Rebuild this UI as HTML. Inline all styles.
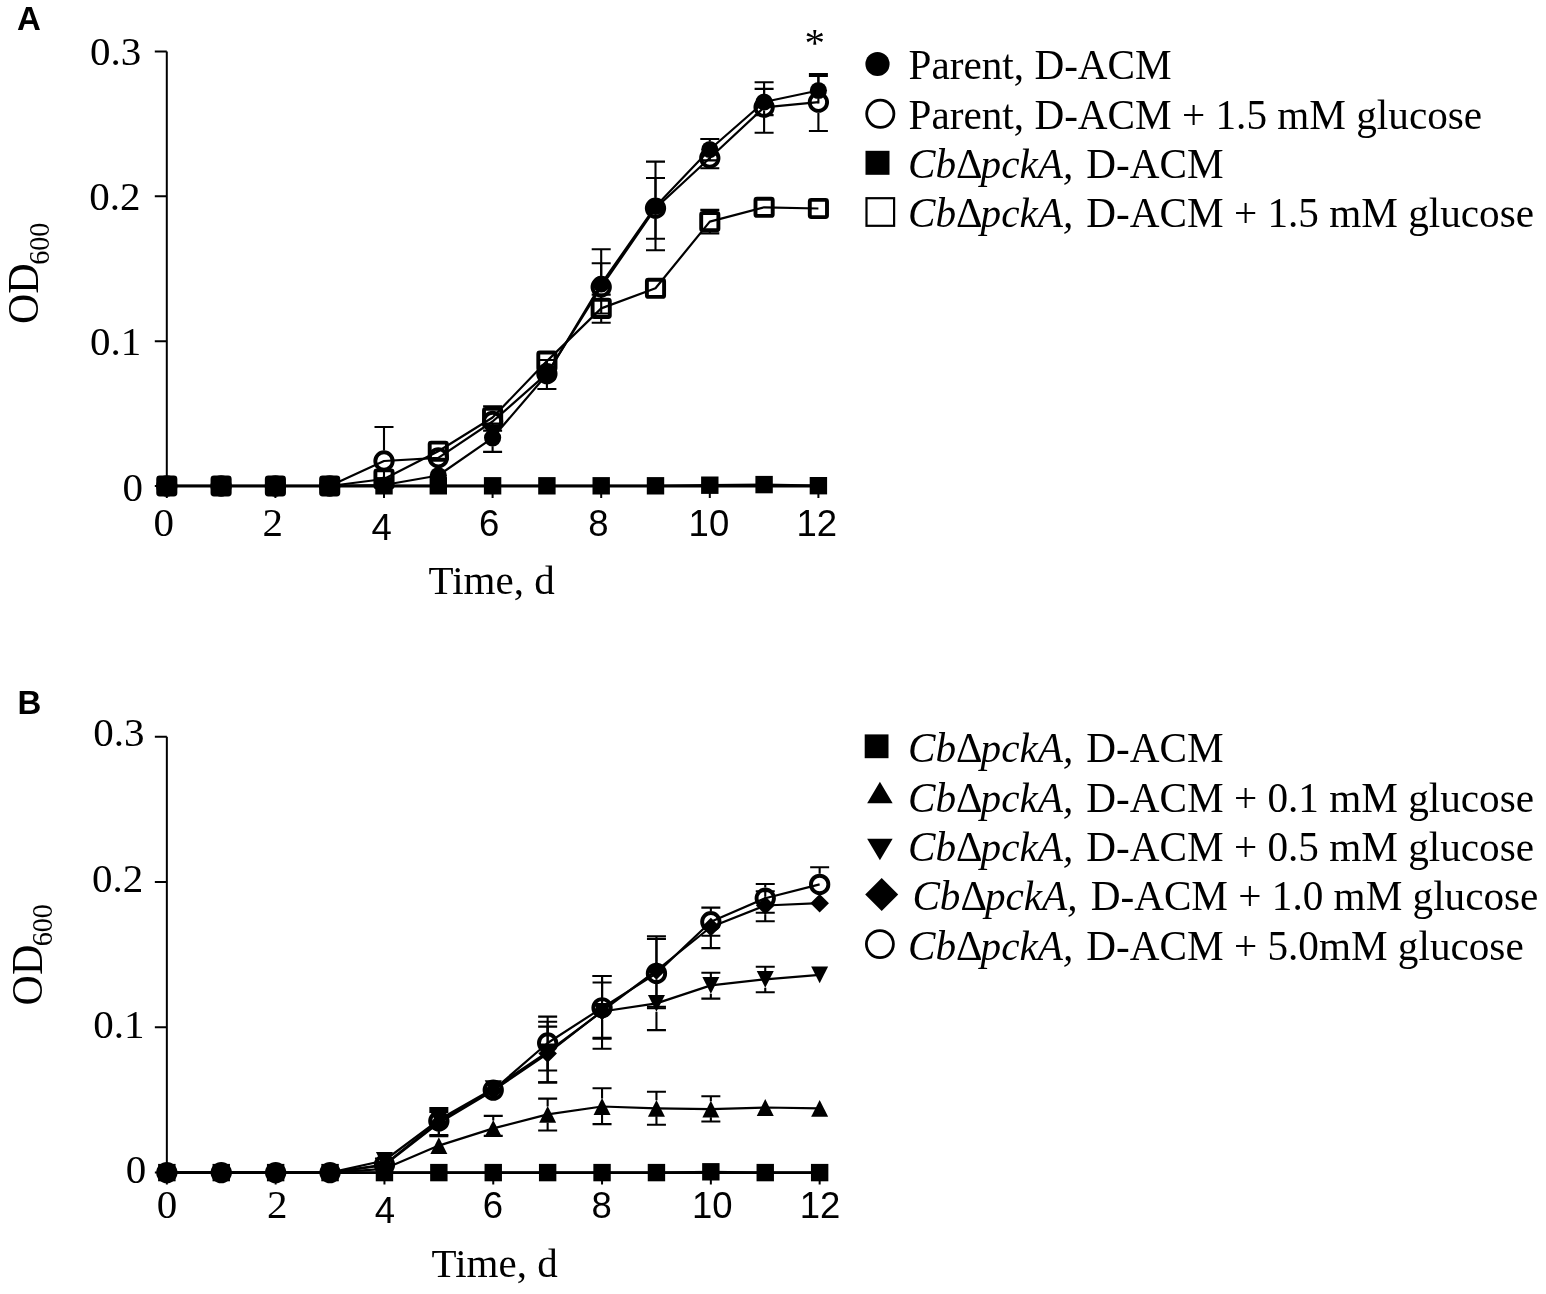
<!DOCTYPE html>
<html lang="en">
<head>
<meta charset="utf-8">
<title>Figure</title>
<style>
html,body{margin:0;padding:0;background:#fff;}
body{width:1546px;height:1294px;overflow:hidden;}
svg{display:block;}
.se{font-family:"Liberation Serif","DejaVu Serif",serif;fill:#000;}
.sa{font-family:"Liberation Sans","DejaVu Sans",sans-serif;fill:#000;}
.sab{font-family:"Liberation Sans","DejaVu Sans",sans-serif;font-weight:bold;fill:#000;}
</style>
</head>
<body>
<svg width="1546" height="1294" viewBox="0 0 1546 1294">
<rect width="1546" height="1294" fill="#fff"/>
<g id="panelA">
<path d="M166.8 51.4V486" stroke="#000" stroke-width="2.0" fill="none"/>
<path d="M165.8 486H818.4" stroke="#000" stroke-width="2.8" fill="none"/>
<path d="M154.8 51.4H166.8M154.8 196.2H166.8M154.8 341.3H166.8M154.8 486H166.8M166.8 486V498M275.4 486V498M384 486V498M492.6 486V498M601.2 486V498M709.8 486V498M818.4 486V498" stroke="#000" stroke-width="2.0" fill="none"/>
<rect x="158.1" y="477.1" width="17.4" height="17.4" fill="#000"/>
<rect x="212.4" y="477.1" width="17.4" height="17.4" fill="#000"/>
<rect x="266.7" y="477.1" width="17.4" height="17.4" fill="#000"/>
<rect x="321" y="477.1" width="17.4" height="17.4" fill="#000"/>
<rect x="375.3" y="477.1" width="17.4" height="17.4" fill="#000"/>
<rect x="429.6" y="477.1" width="17.4" height="17.4" fill="#000"/>
<rect x="483.9" y="477.1" width="17.4" height="17.4" fill="#000"/>
<rect x="538.2" y="477.1" width="17.4" height="17.4" fill="#000"/>
<rect x="592.5" y="477.1" width="17.4" height="17.4" fill="#000"/>
<rect x="646.8" y="477.1" width="17.4" height="17.4" fill="#000"/>
<rect x="701.1" y="476.5" width="17.4" height="17.4" fill="#000"/>
<rect x="755.4" y="475.9" width="17.4" height="17.4" fill="#000"/>
<rect x="809.7" y="477" width="17.4" height="17.4" fill="#000"/>
<path d="M492.6 407V406.3M483.1 406.3H502.1M492.6 428V430.6M483.1 430.6H502.1M601.2 297.9V294.6M591.7 294.6H610.7M601.2 318.9V322.7M591.7 322.7H610.7M709.8 211.1V209.9M700.3 209.9H719.3M709.8 232.1V233.4M700.3 233.4H719.3" fill="none" stroke="#000" stroke-width="2.1"/>
<rect x="158.2" y="477.4" width="17.2" height="17.2" rx="1.5" fill="none" stroke="#000" stroke-width="3.9"/>
<rect x="212.5" y="477.4" width="17.2" height="17.2" rx="1.5" fill="none" stroke="#000" stroke-width="3.9"/>
<rect x="266.8" y="477.4" width="17.2" height="17.2" rx="1.5" fill="none" stroke="#000" stroke-width="3.9"/>
<rect x="321.1" y="477.4" width="17.2" height="17.2" rx="1.5" fill="none" stroke="#000" stroke-width="3.9"/>
<rect x="375.4" y="470.4" width="17.2" height="17.2" rx="1.5" fill="none" stroke="#000" stroke-width="3.9"/>
<rect x="429.7" y="442.6" width="17.2" height="17.2" rx="1.5" fill="none" stroke="#000" stroke-width="3.9"/>
<rect x="484" y="408.9" width="17.2" height="17.2" rx="1.5" fill="none" stroke="#000" stroke-width="3.9"/>
<rect x="538.3" y="352.5" width="17.2" height="17.2" rx="1.5" fill="none" stroke="#000" stroke-width="3.9"/>
<rect x="592.6" y="299.8" width="17.2" height="17.2" rx="1.5" fill="none" stroke="#000" stroke-width="3.9"/>
<rect x="646.9" y="279.7" width="17.2" height="17.2" rx="1.5" fill="none" stroke="#000" stroke-width="3.9"/>
<rect x="701.2" y="213" width="17.2" height="17.2" rx="1.5" fill="none" stroke="#000" stroke-width="3.9"/>
<rect x="755.5" y="198.7" width="17.2" height="17.2" rx="1.5" fill="none" stroke="#000" stroke-width="3.9"/>
<rect x="809.8" y="199.9" width="17.2" height="17.2" rx="1.5" fill="none" stroke="#000" stroke-width="3.9"/>
<path d="M384 450.4V427M374.5 427H393.5M384 471.6V494M601.2 276.4V263.2M591.7 263.2H610.7M601.2 297.6V313.5M591.7 313.5H610.7M655.5 197.6V178M646 178H665M655.5 218.8V238.8M646 238.8H665M700.3 168.3H719.3M764.1 96.7V82.3M754.6 82.3H773.6M764.1 117.9V132.8M754.6 132.8H773.6M818.4 91.6V74M808.9 74H827.9M818.4 112.8V131M808.9 131H827.9" fill="none" stroke="#000" stroke-width="2.1"/>
<circle cx="166.8" cy="486" r="8.7" fill="none" stroke="#000" stroke-width="3.9"/>
<circle cx="221.1" cy="486" r="8.7" fill="none" stroke="#000" stroke-width="3.9"/>
<circle cx="275.4" cy="486" r="8.7" fill="none" stroke="#000" stroke-width="3.9"/>
<circle cx="329.7" cy="486" r="8.7" fill="none" stroke="#000" stroke-width="3.9"/>
<circle cx="384" cy="461" r="8.7" fill="none" stroke="#000" stroke-width="3.9"/>
<circle cx="438.3" cy="457.8" r="8.7" fill="none" stroke="#000" stroke-width="3.9"/>
<circle cx="492.6" cy="421.5" r="8.7" fill="none" stroke="#000" stroke-width="3.9"/>
<circle cx="546.9" cy="373.7" r="8.7" fill="none" stroke="#000" stroke-width="3.9"/>
<circle cx="601.2" cy="287" r="8.7" fill="none" stroke="#000" stroke-width="3.9"/>
<circle cx="655.5" cy="208.2" r="8.7" fill="none" stroke="#000" stroke-width="3.9"/>
<circle cx="709.8" cy="158" r="8.7" fill="none" stroke="#000" stroke-width="3.9"/>
<circle cx="764.1" cy="107.3" r="8.7" fill="none" stroke="#000" stroke-width="3.9"/>
<circle cx="818.4" cy="102.2" r="8.7" fill="none" stroke="#000" stroke-width="3.9"/>
<path d="M492.6 429.3V423.6M483.1 423.6H502.1M492.6 446.3V451.9M483.1 451.9H502.1M546.9 366V360M537.4 360H556.4M546.9 383V389M537.4 389H556.4M601.2 275.5V249.3M591.7 249.3H610.7M655.5 198V161.6M646 161.6H665M655.5 215V250.3M646 250.3H665M709.8 141V139M700.3 139H719.3M709.8 158V160.4M700.3 160.4H719.3M764.1 93.5V88.9M754.6 88.9H773.6M764.1 110.5V115.1M754.6 115.1H773.6M818.4 82V76M808.9 76H827.9M818.4 99V103.5" fill="none" stroke="#000" stroke-width="2.1"/>
<circle cx="166.8" cy="486" r="8.6" fill="#000"/>
<circle cx="221.1" cy="486" r="8.6" fill="#000"/>
<circle cx="275.4" cy="486" r="8.6" fill="#000"/>
<circle cx="329.7" cy="486" r="8.6" fill="#000"/>
<circle cx="384" cy="485" r="8.6" fill="#000"/>
<circle cx="438.3" cy="475.5" r="8.6" fill="#000"/>
<circle cx="492.6" cy="437.8" r="8.6" fill="#000"/>
<circle cx="546.9" cy="374.5" r="8.6" fill="#000"/>
<circle cx="601.2" cy="284" r="8.6" fill="#000"/>
<circle cx="655.5" cy="206.5" r="8.6" fill="#000"/>
<circle cx="709.8" cy="149.5" r="8.6" fill="#000"/>
<circle cx="764.1" cy="102" r="8.6" fill="#000"/>
<circle cx="818.4" cy="90.5" r="8.6" fill="#000"/>
<polyline points="166.8,485.8 221.1,485.8 275.4,485.8 329.7,485.8 384,485.8 438.3,485.8 492.6,485.8 546.9,485.8 601.2,485.8 655.5,485.8 709.8,485.2 764.1,484.6 818.4,485.7" fill="none" stroke="#000" stroke-width="2.2" stroke-linejoin="round"/>
<polyline points="166.8,486 221.1,486 275.4,486 329.7,486 384,479 438.3,451.2 492.6,417.5 546.9,361.1 601.2,308.4 655.5,288.3 709.8,221.6 764.1,207.3 818.4,208.5" fill="none" stroke="#000" stroke-width="2.2" stroke-linejoin="round"/>
<polyline points="166.8,486 221.1,486 275.4,486 329.7,486 384,461 438.3,457.8 492.6,421.5 546.9,373.7 601.2,287 655.5,208.2 709.8,158 764.1,107.3 818.4,102.2" fill="none" stroke="#000" stroke-width="2.2" stroke-linejoin="round"/>
<polyline points="166.8,486 221.1,486 275.4,486 329.7,486 384,485 438.3,475.5 492.6,437.8 546.9,374.5 601.2,284 655.5,206.5 709.8,149.5 764.1,102 818.4,90.5" fill="none" stroke="#000" stroke-width="2.2" stroke-linejoin="round"/>
<text x="814.8" y="55.6" text-anchor="middle" class="se" font-size="41">*</text>
</g>
<g id="panelB">
<path d="M166.85 736.8V1172.6" stroke="#000" stroke-width="2.0" fill="none"/>
<path d="M165.85 1172.6H819.65" stroke="#000" stroke-width="2.8" fill="none"/>
<path d="M154.85 736.8H166.85M154.85 882.1H166.85M154.85 1027.3H166.85M154.85 1172.6H166.85M166.85 1172.6V1184.6M275.65 1172.6V1184.6M384.45 1172.6V1184.6M493.25 1172.6V1184.6M602.05 1172.6V1184.6M710.85 1172.6V1184.6M819.65 1172.6V1184.6" stroke="#000" stroke-width="2.0" fill="none"/>
<rect x="158.15" y="1163.9" width="17.4" height="17.4" fill="#000"/>
<rect x="212.55" y="1163.9" width="17.4" height="17.4" fill="#000"/>
<rect x="266.95" y="1163.9" width="17.4" height="17.4" fill="#000"/>
<rect x="321.35" y="1163.9" width="17.4" height="17.4" fill="#000"/>
<rect x="375.75" y="1163.9" width="17.4" height="17.4" fill="#000"/>
<rect x="430.15" y="1163.9" width="17.4" height="17.4" fill="#000"/>
<rect x="484.55" y="1163.9" width="17.4" height="17.4" fill="#000"/>
<rect x="538.95" y="1163.9" width="17.4" height="17.4" fill="#000"/>
<rect x="593.35" y="1163.9" width="17.4" height="17.4" fill="#000"/>
<rect x="647.75" y="1163.9" width="17.4" height="17.4" fill="#000"/>
<rect x="702.15" y="1163.1" width="17.4" height="17.4" fill="#000"/>
<rect x="756.55" y="1163.9" width="17.4" height="17.4" fill="#000"/>
<rect x="810.95" y="1163.9" width="17.4" height="17.4" fill="#000"/>
<path d="M493.25 1120.4V1115.9M483.75 1115.9H502.75M483.75 1135.9H502.75M547.65 1106.4V1098.6M538.15 1098.6H557.15M547.65 1122.4V1130.5M538.15 1130.5H557.15M602.05 1098.5V1088.3M592.55 1088.3H611.55M602.05 1114.5V1124.1M592.55 1124.1H611.55M656.45 1100.3V1091.8M646.95 1091.8H665.95M656.45 1116.3V1124.7M646.95 1124.7H665.95M710.85 1101.2V1096.2M701.35 1096.2H720.35M710.85 1117.2V1121.5M701.35 1121.5H720.35" fill="none" stroke="#000" stroke-width="2.1"/>
<polygon points="166.85,1164.2 175.35,1181 158.35,1181" fill="#000"/>
<polygon points="221.25,1164.2 229.75,1181 212.75,1181" fill="#000"/>
<polygon points="275.65,1164.2 284.15,1181 267.15,1181" fill="#000"/>
<polygon points="330.05,1164.2 338.55,1181 321.55,1181" fill="#000"/>
<polygon points="384.45,1160.4 392.95,1177.2 375.95,1177.2" fill="#000"/>
<polygon points="438.85,1137.2 447.35,1154 430.35,1154" fill="#000"/>
<polygon points="493.25,1120 501.75,1136.8 484.75,1136.8" fill="#000"/>
<polygon points="547.65,1106 556.15,1122.8 539.15,1122.8" fill="#000"/>
<polygon points="602.05,1098.1 610.55,1114.9 593.55,1114.9" fill="#000"/>
<polygon points="656.45,1099.9 664.95,1116.7 647.95,1116.7" fill="#000"/>
<polygon points="710.85,1100.8 719.35,1117.6 702.35,1117.6" fill="#000"/>
<polygon points="765.25,1099.1 773.75,1115.9 756.75,1115.9" fill="#000"/>
<polygon points="819.65,1100 828.15,1116.8 811.15,1116.8" fill="#000"/>
<path d="M438.85 1111.4V1110M429.35 1110H448.35M547.65 1043.6V1026.6M538.15 1026.6H557.15M547.65 1060.4V1082.4M538.15 1082.4H557.15M602.05 1003.1V982.5M592.55 982.5H611.55M602.05 1019.9V1038.8M592.55 1038.8H611.55M656.45 1011.8V1030.1M646.95 1030.1H665.95M710.85 977V972.8M701.35 972.8H720.35M710.85 993.8V998.6M701.35 998.6H720.35M765.25 970.9V966.7M755.75 966.7H774.75M765.25 987.7V992.2M755.75 992.2H774.75" fill="none" stroke="#000" stroke-width="2.1"/>
<polygon points="166.85,1181 175.35,1164.2 158.35,1164.2" fill="#000"/>
<polygon points="221.25,1181 229.75,1164.2 212.75,1164.2" fill="#000"/>
<polygon points="275.65,1181 284.15,1164.2 267.15,1164.2" fill="#000"/>
<polygon points="330.05,1181 338.55,1164.2 321.55,1164.2" fill="#000"/>
<polygon points="384.45,1168.9 392.95,1152.1 375.95,1152.1" fill="#000"/>
<polygon points="438.85,1128.2 447.35,1111.4 430.35,1111.4" fill="#000"/>
<polygon points="493.25,1097 501.75,1080.2 484.75,1080.2" fill="#000"/>
<polygon points="547.65,1060.4 556.15,1043.6 539.15,1043.6" fill="#000"/>
<polygon points="602.05,1019.9 610.55,1003.1 593.55,1003.1" fill="#000"/>
<polygon points="656.45,1011.8 664.95,995 647.95,995" fill="#000"/>
<polygon points="710.85,993.8 719.35,977 702.35,977" fill="#000"/>
<polygon points="765.25,987.7 773.75,970.9 756.75,970.9" fill="#000"/>
<polygon points="819.65,983.3 828.15,966.5 811.15,966.5" fill="#000"/>
<path d="M438.85 1114.3V1112M429.35 1112H448.35M438.85 1131.7V1136.2M429.35 1136.2H448.35M547.65 1044.8V1021.8M538.15 1021.8H557.15M547.65 1062.2V1082.4M538.15 1082.4H557.15M602.05 1002.3V976M592.55 976H611.55M602.05 1019.7V1037.8M592.55 1037.8H611.55M656.45 961.8V938.9M646.95 938.9H665.95M656.45 979.2V1008.2M646.95 1008.2H665.95M710.85 935.7V948.1M701.35 948.1H720.35M765.25 896.8V891.2M755.75 891.2H774.75M765.25 914.2V921.3M755.75 921.3H774.75" fill="none" stroke="#000" stroke-width="2.1"/>
<polygon points="166.85,1163.3 176.15,1172.6 166.85,1181.9 157.55,1172.6" fill="#000"/>
<polygon points="221.25,1163.3 230.55,1172.6 221.25,1181.9 211.95,1172.6" fill="#000"/>
<polygon points="275.65,1163.3 284.95,1172.6 275.65,1181.9 266.35,1172.6" fill="#000"/>
<polygon points="330.05,1163.3 339.35,1172.6 330.05,1181.9 320.75,1172.6" fill="#000"/>
<polygon points="384.45,1155.9 393.75,1165.2 384.45,1174.5 375.15,1165.2" fill="#000"/>
<polygon points="438.85,1113.7 448.15,1123 438.85,1132.3 429.55,1123" fill="#000"/>
<polygon points="493.25,1081.2 502.55,1090.5 493.25,1099.8 483.95,1090.5" fill="#000"/>
<polygon points="547.65,1044.2 556.95,1053.5 547.65,1062.8 538.35,1053.5" fill="#000"/>
<polygon points="602.05,1001.7 611.35,1011 602.05,1020.3 592.75,1011" fill="#000"/>
<polygon points="656.45,961.2 665.75,970.5 656.45,979.8 647.15,970.5" fill="#000"/>
<polygon points="710.85,917.7 720.15,927 710.85,936.3 701.55,927" fill="#000"/>
<polygon points="765.25,896.2 774.55,905.5 765.25,914.8 755.95,905.5" fill="#000"/>
<polygon points="819.65,893.9 828.95,903.2 819.65,912.5 810.35,903.2" fill="#000"/>
<path d="M374.95 1158.5H393.95M438.85 1110.4V1108M429.35 1108H448.35M438.85 1131.6V1135M429.35 1135H448.35M547.65 1032.4V1016.6M538.15 1016.6H557.15M547.65 1053.6V1070.5M538.15 1070.5H557.15M602.05 997.2V976M592.55 976H611.55M602.05 1018.4V1048.8M592.55 1048.8H611.55M656.45 962.8V936.2M646.95 936.2H665.95M656.45 984V1006.8M646.95 1006.8H665.95M710.85 911.1V907.6M701.35 907.6H720.35M710.85 932.3V935.8M701.35 935.8H720.35M765.25 887.6V884M755.75 884H774.75M765.25 908.8V912.8M755.75 912.8H774.75M819.65 873.8V867.2M810.15 867.2H829.15" fill="none" stroke="#000" stroke-width="2.1"/>
<circle cx="166.85" cy="1172.6" r="8.7" fill="none" stroke="#000" stroke-width="3.9"/>
<circle cx="221.25" cy="1172.6" r="8.7" fill="none" stroke="#000" stroke-width="3.9"/>
<circle cx="275.65" cy="1172.6" r="8.7" fill="none" stroke="#000" stroke-width="3.9"/>
<circle cx="330.05" cy="1172.6" r="8.7" fill="none" stroke="#000" stroke-width="3.9"/>
<circle cx="384.45" cy="1164.7" r="8.7" fill="none" stroke="#000" stroke-width="3.9"/>
<circle cx="438.85" cy="1121" r="8.7" fill="none" stroke="#000" stroke-width="3.9"/>
<circle cx="493.25" cy="1090.1" r="8.7" fill="none" stroke="#000" stroke-width="3.9"/>
<circle cx="547.65" cy="1043" r="8.7" fill="none" stroke="#000" stroke-width="3.9"/>
<circle cx="602.05" cy="1007.8" r="8.7" fill="none" stroke="#000" stroke-width="3.9"/>
<circle cx="656.45" cy="973.4" r="8.7" fill="none" stroke="#000" stroke-width="3.9"/>
<circle cx="710.85" cy="921.7" r="8.7" fill="none" stroke="#000" stroke-width="3.9"/>
<circle cx="765.25" cy="898.2" r="8.7" fill="none" stroke="#000" stroke-width="3.9"/>
<circle cx="819.65" cy="884.4" r="8.7" fill="none" stroke="#000" stroke-width="3.9"/>
<polyline points="166.85,1172.6 221.25,1172.6 275.65,1172.6 330.05,1172.6 384.45,1172.6 438.85,1172.6 493.25,1172.6 547.65,1172.6 602.05,1172.6 656.45,1172.6 710.85,1171.8 765.25,1172.6 819.65,1172.6" fill="none" stroke="#000" stroke-width="2.2" stroke-linejoin="round"/>
<polyline points="166.85,1172.6 221.25,1172.6 275.65,1172.6 330.05,1172.6 384.45,1168.8 438.85,1145.6 493.25,1128.4 547.65,1114.4 602.05,1106.5 656.45,1108.3 710.85,1109.2 765.25,1107.5 819.65,1108.4" fill="none" stroke="#000" stroke-width="2.2" stroke-linejoin="round"/>
<polyline points="166.85,1172.6 221.25,1172.6 275.65,1172.6 330.05,1172.6 384.45,1160.5 438.85,1119.8 493.25,1088.6 547.65,1052 602.05,1011.5 656.45,1003.4 710.85,985.4 765.25,979.3 819.65,974.9" fill="none" stroke="#000" stroke-width="2.2" stroke-linejoin="round"/>
<polyline points="166.85,1172.6 221.25,1172.6 275.65,1172.6 330.05,1172.6 384.45,1165.2 438.85,1123 493.25,1090.5 547.65,1053.5 602.05,1011 656.45,970.5 710.85,927 765.25,905.5 819.65,903.2" fill="none" stroke="#000" stroke-width="2.2" stroke-linejoin="round"/>
<polyline points="166.85,1172.6 221.25,1172.6 275.65,1172.6 330.05,1172.6 384.45,1164.7 438.85,1121 493.25,1090.1 547.65,1043 602.05,1007.8 656.45,973.4 710.85,921.7 765.25,898.2 819.65,884.4" fill="none" stroke="#000" stroke-width="2.2" stroke-linejoin="round"/>
</g>
<text x="17" y="29.8" text-anchor="start" class="sab" font-size="33">A</text>
<text x="17.6" y="713.6" text-anchor="start" class="sab" font-size="33">B</text>
<text x="141.3" y="64.7" text-anchor="end" class="se" font-size="41">0.3</text>
<text x="140.6" y="209.9" text-anchor="end" class="se" font-size="41">0.2</text>
<text x="141.3" y="355.1" text-anchor="end" class="se" font-size="41">0.1</text>
<text x="143.1" y="500.6" text-anchor="end" class="se" font-size="41">0</text>
<text x="144.5" y="746.3" text-anchor="end" class="se" font-size="41">0.3</text>
<text x="143.3" y="892.2" text-anchor="end" class="se" font-size="41">0.2</text>
<text x="144.5" y="1037.8" text-anchor="end" class="se" font-size="41">0.1</text>
<text x="146.2" y="1182.7" text-anchor="end" class="se" font-size="41">0</text>
<text x="163.8" y="536" text-anchor="middle" class="se" font-size="41">0</text>
<text x="272.7" y="536" text-anchor="middle" class="se" font-size="41">2</text>
<text x="381.7" y="540" text-anchor="middle" class="sa" font-size="36.5">4</text>
<text x="489.2" y="536" text-anchor="middle" class="sa" font-size="36.5">6</text>
<text x="598.4" y="536" text-anchor="middle" class="sa" font-size="36.5">8</text>
<text x="708.9" y="536" text-anchor="middle" class="sa" font-size="36.5">10</text>
<text x="816.7" y="536" text-anchor="middle" class="sa" font-size="36.5">12</text>
<text x="167.1" y="1218.2" text-anchor="middle" class="se" font-size="41">0</text>
<text x="277.2" y="1218.2" text-anchor="middle" class="se" font-size="41">2</text>
<text x="385" y="1223.2" text-anchor="middle" class="sa" font-size="36.5">4</text>
<text x="493" y="1218" text-anchor="middle" class="sa" font-size="36.5">6</text>
<text x="601.7" y="1218" text-anchor="middle" class="sa" font-size="36.5">8</text>
<text x="712.3" y="1218" text-anchor="middle" class="sa" font-size="36.5">10</text>
<text x="820" y="1218" text-anchor="middle" class="sa" font-size="36.5">12</text>
<text x="491.6" y="594.2" text-anchor="middle" class="se" font-size="41">Time, d</text>
<text x="494.6" y="1276.9" text-anchor="middle" class="se" font-size="41">Time, d</text>
<text transform="translate(38.3,324) scale(1.045,1) rotate(-90)" class="se" font-size="42">OD<tspan font-size="28" dx="-1.5" dy="9.8">600</tspan></text>
<text transform="translate(41.8,1005.4) scale(1.045,1) rotate(-90)" class="se" font-size="42">OD<tspan font-size="28" dx="-1.5" dy="9.8">600</tspan></text>
<circle cx="877.5" cy="64" r="12.1" fill="#000"/>
<text x="908.6" y="79.4" class="se" font-size="41.2">Parent, D-ACM</text>
<circle cx="880.3" cy="113.8" r="13.6" fill="none" stroke="#000" stroke-width="2.8"/>
<text x="908.6" y="128.5" class="se" font-size="41.2">Parent, D-ACM + 1.5 mM glucose</text>
<rect x="865.5" y="150.8" width="24" height="24" fill="#000"/>
<text y="177.6" class="se" font-size="41.2"><tspan x="908" font-style="italic">Cb</tspan><tspan>Δ</tspan><tspan dx="-2" font-style="italic">pckA, </tspan><tspan x="1086.3">D-ACM</tspan></text>
<rect x="866.5" y="198.2" width="27.6" height="27.6" rx="0" fill="none" stroke="#000" stroke-width="2.2"/>
<text y="226.5" class="se" font-size="41.2"><tspan x="908" font-style="italic">Cb</tspan><tspan>Δ</tspan><tspan dx="-2" font-style="italic">pckA, </tspan><tspan x="1086.3">D-ACM + 1.5 mM glucose</tspan></text>
<rect x="864.7" y="734.4" width="23.8" height="23.8" fill="#000"/>
<text y="761.8" class="se" font-size="41.2"><tspan x="908" font-style="italic">Cb</tspan><tspan>Δ</tspan><tspan dx="-2" font-style="italic">pckA, </tspan><tspan x="1086.3">D-ACM</tspan></text>
<polygon points="879.9,781.85 892.65,803.35 867.15,803.35" fill="#000"/>
<text y="811.5" class="se" font-size="41.2"><tspan x="908" font-style="italic">Cb</tspan><tspan>Δ</tspan><tspan dx="-2" font-style="italic">pckA, </tspan><tspan x="1086.3">D-ACM + 0.1 mM glucose</tspan></text>
<polygon points="879.9,860.15 892.65,838.65 867.15,838.65" fill="#000"/>
<text y="860.7" class="se" font-size="41.2"><tspan x="908" font-style="italic">Cb</tspan><tspan>Δ</tspan><tspan dx="-2" font-style="italic">pckA, </tspan><tspan x="1086.3">D-ACM + 0.5 mM glucose</tspan></text>
<polygon points="881.7,878.1 898.2,894.6 881.7,911.1 865.2,894.6" fill="#000"/>
<text y="909.9" class="se" font-size="41.2"><tspan x="912.4" font-style="italic">Cb</tspan><tspan>Δ</tspan><tspan dx="-2" font-style="italic">pckA, </tspan><tspan x="1090.7">D-ACM + 1.0 mM glucose</tspan></text>
<circle cx="879.9" cy="944.1" r="13.5" fill="none" stroke="#000" stroke-width="2.8"/>
<text y="959.6" class="se" font-size="41.2"><tspan x="908" font-style="italic">Cb</tspan><tspan>Δ</tspan><tspan dx="-2" font-style="italic">pckA, </tspan><tspan x="1086.3">D-ACM + 5.0mM glucose</tspan></text>
</svg>
</body>
</html>
